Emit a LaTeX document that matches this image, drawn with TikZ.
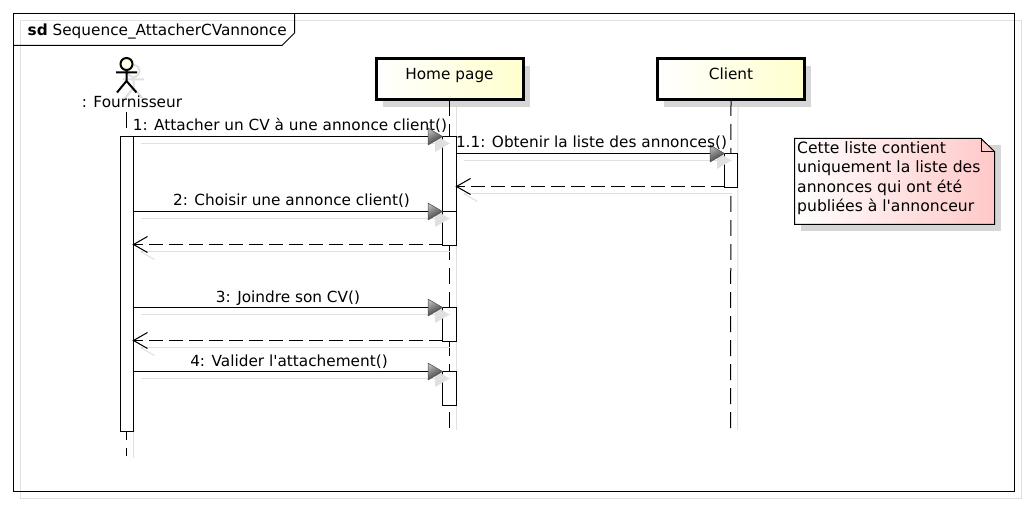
\documentclass[tikz,border=0pt]{standalone}
\usepackage{fontspec}
\setmainfont{DejaVu Sans}
\usetikzlibrary{calc,arrows.meta}
\definecolor{shadowgray}{gray}{0.88}
\definecolor{noteshadow}{gray}{0.84}
\definecolor{boxyellow}{RGB}{255,255,205}
\definecolor{notepink}{RGB}{255,200,200}
\tikzset{
  x=1pt,y=-1pt,
  base/.style={line width=1pt,draw=black},
  shadowline/.style={line width=1pt,draw=shadowgray},
  lifeline/.style={line width=1pt,draw=black,dash pattern=on 16pt off 8pt},
  activation/.style={draw=black,line width=1pt,fill=white,anchor=north west,inner sep=0pt,outer sep=0pt,minimum width=#1},
  activation/.default=13pt,
  headbox/.style={draw=black,line width=3pt,anchor=north west,inner sep=0pt,outer sep=0pt,minimum width=147pt,minimum height=41pt,
     shade,shading angle=70,left color=white,right color=boxyellow},
  headshadow/.style={fill=noteshadow,anchor=north west,inner sep=0pt,minimum width=147pt,minimum height=41pt},
  msglabel/.style={font=\fontsize{15.3}{17}\selectfont,inner sep=0pt,anchor=base},
  notetext/.style={font=\fontsize{15.6}{19.3}\selectfont,inner sep=0pt,anchor=north west,align=left},
  retdash/.style={line width=1pt,dash pattern=on 13.5pt off 6.5pt}
}
\newcommand{\syncmsg}[2]{%
  \draw[shadowline] ($(#1)+(7,7)$) -- ($(#2)+(7,7)$);
  \fill[shadowgray] ($(#2)+(7,7)$) -- ++(-14.5,-8.5) -- ++(0,17) -- cycle;
  \draw[base] (#1) -- (#2);
  \path[top color=black!30,bottom color=black!80,shading angle=30,draw=black!70,line width=0.5pt] (#2) -- ++(-14.5,-8.5) -- ++(0,17) -- cycle;
}
\newcommand{\retmsg}[2]{%
  \draw[shadowline] ($(#1)+(7,6)$) -- ($(#2)+(7,6)$);
  \draw[shadowline] ($(#2)+(21,14)$) -- ($(#2)+(7,6)$);
  \draw[retdash] ($(#1)+(0,-1)$) -- ($(#2)+(0,-1)$);
  \draw[base] ($(#2)+(14,-9)$) -- ($(#2)+(0,-1)$) -- ($(#2)+(14,7)$);
}
\begin{document}
\begin{tikzpicture}
\useasboundingbox (0,0) rectangle (1028,505);
\fill[white] (0,0) rectangle (1028,505);
% frame
\draw[shadowline] (20.5,20.5) -- (1021.5,20.5) -- (1021.5,498.5) -- (20.5,498.5) -- cycle;
\draw[base] (13.5,13.5) rectangle (1014.5,491.5);
\draw[base] (13.5,45.5) -- (282,45.5) -- (294.5,33) -- (294.5,13.5);
\node[font=\fontsize{15.3}{17}\selectfont,inner sep=0pt,anchor=base west] (title) at (27.5,36) {\textbf{sd} Sequence\_AttacherCVannonce};
% actor shadow
\begin{scope}[shift={(7,7)},line width=2pt]
  \draw[shadowgray] (126.5,64) circle (6);
  \draw[shadowgray] (116,72.5) -- (137,72.5) (126.5,70) -- (126.5,81) -- (117,92.5) (126.5,81) -- (136.5,92.5);
\end{scope}
% actor
\node[circle,draw=black,line width=2pt,inner sep=0pt,minimum size=12pt,shade,inner color=white,outer color=boxyellow] (head) at (126.5,64) {};
\coordinate (hip) at (126.5,81);
\coordinate (arml) at (116,72.5);
\coordinate (armr) at (137,72.5);
\coordinate (footl) at (117,92.5);
\coordinate (footr) at (136.5,92.5);
\draw[line width=2pt] (head.south) -- (hip) -- (footl) (hip) -- (footr) (arml) -- (armr);
\node[msglabel] (actor) at (132,107.5) {: Fournisseur};
% head boxes
\node[headshadow] at (383,66) {};
\node[headshadow] at (664,66) {};
\node[headbox] (home) at (376,59) {};
\node[headbox] (client) at (657.5,59) {};
\node[msglabel] at (449.5,80) {Home page};
\node[msglabel] at (731,80) {Client};
% lifelines
\coordinate (homeend) at (449.5,430);
\coordinate (clientend) at (730.5,430);
\coordinate (actortop) at (126.5,112);
\coordinate (actorbot) at (126.5,456);
\draw[shadowline] ($(home.south)+(7,7)$) -- ($(homeend)+(7,0)$);
\draw[shadowline] ($(client.south)+(7,7)$) -- ($(clientend)+(7,0)$);
\draw[shadowline] (133.5,136.5) -- (133.5,458);
\draw[lifeline] (home.south) -- (homeend);
\draw[lifeline] (client.south) -- (clientend);
\draw[lifeline] (actortop) -- (actorbot);
% activations
\node[activation,minimum height=295pt] (aA) at (120.5,136.5) {};
\node[activation=14pt,minimum height=109pt] (aH1) at (442.5,136.5) {};
\node[activation=14pt,minimum height=34pt] (aH2) at (442.5,211.5) {};
\node[activation=14pt,minimum height=34pt] (aH3) at (442.5,307.5) {};
\node[activation=14pt,minimum height=34pt] (aH4) at (442.5,371.5) {};
\node[activation,minimum height=34pt] (aC) at (724.5,153.5) {};
% messages
\syncmsg{aA.north east}{aH1.north west}
\syncmsg{aH1.east |- aC.north}{aC.north west}
\retmsg{aC.south west}{aH1.east |- aC.south}
\syncmsg{aA.east |- aH2.north}{aH2.north west}
\retmsg{aH2.south west}{aA.east |- aH2.south}
\syncmsg{aA.east |- aH3.north}{aH3.north west}
\retmsg{aH3.south west}{aA.east |- aH3.south}
\syncmsg{aA.east |- aH4.north}{aH4.north west}
% labels
\node[msglabel] (m1) at (290,131) {1: Attacher un CV à une annonce client()};
\node[msglabel] (m11) at (591.5,148) {1.1: Obtenir la liste des annonces()};
\node[msglabel] (m2) at (291.5,206) {2: Choisir une annonce client()};
\node[msglabel] (m3) at (288,302.5) {3: Joindre son CV()};
\node[msglabel] (m4) at (289,366) {4: Valider l\textquotesingle attachement()};
% note
\fill[noteshadow] (801,145) rectangle (1001,231);
\path[left color=white,right color=notepink,draw=black,line width=1pt] (794.5,138.5) -- (981,138.5) -- (994.5,151.5) -- (994.5,224.5) -- (794.5,224.5) -- cycle;
\draw[line width=1pt] (981,138.5) -- (981,151.5) -- (994.5,151.5);
\node[notetext] (note) at (797,141.5) {Cette liste contient\\uniquement la liste des\\annonces qui ont été\\publiées à l\textquotesingle annonceur};
\end{tikzpicture}
\end{document}
